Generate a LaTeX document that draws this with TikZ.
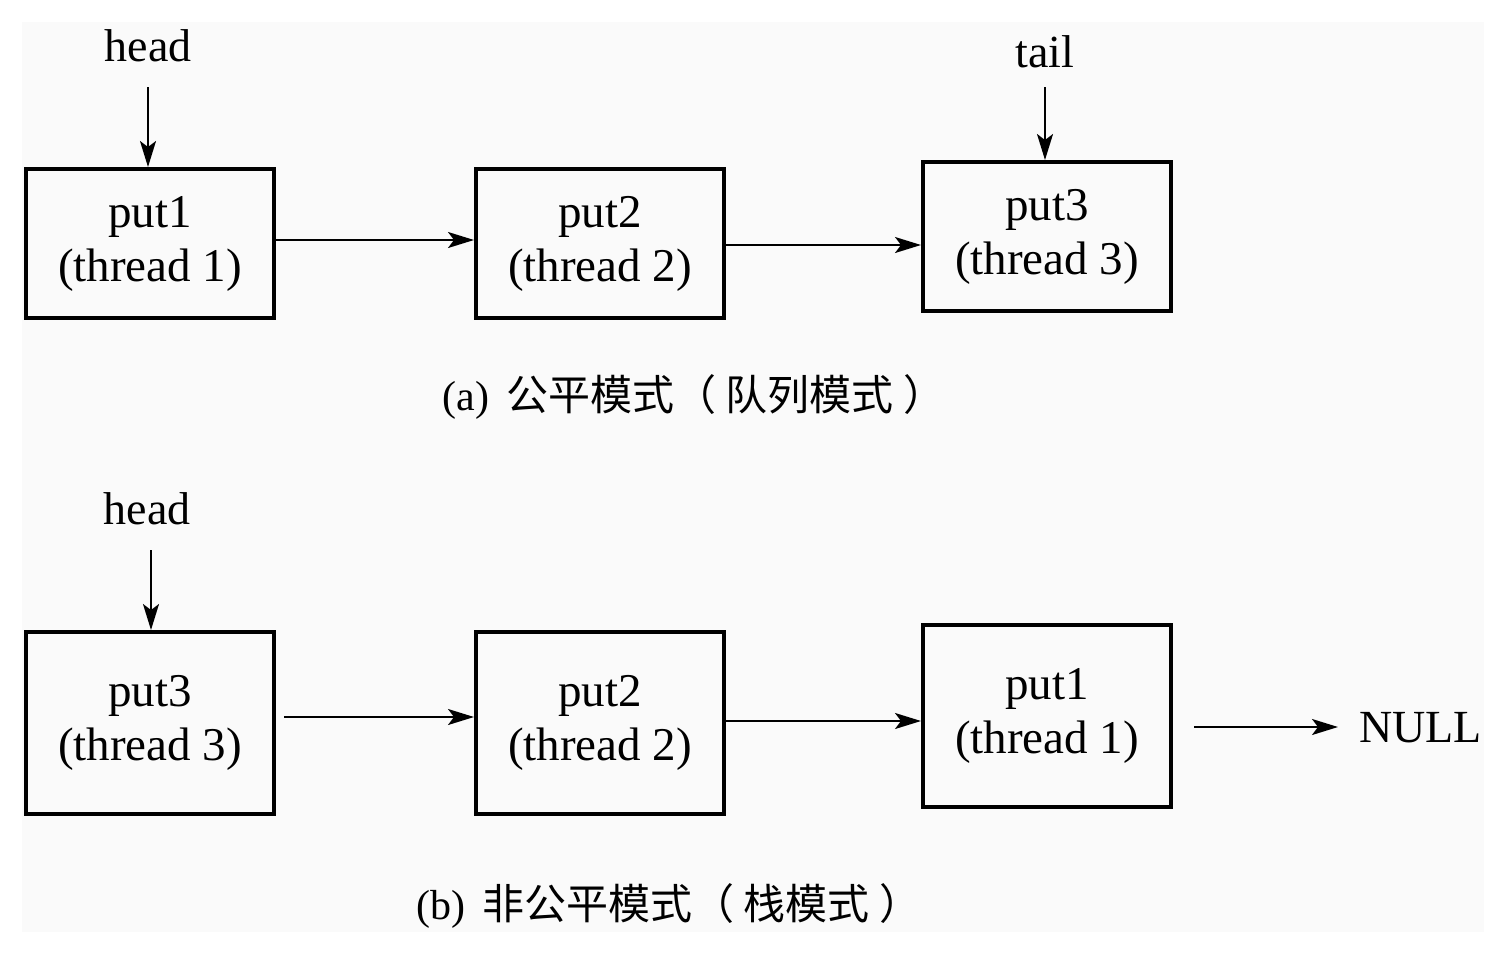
\documentclass[tikz,border=0pt]{standalone}
\usepackage{fontspec}
\setmainfont{Liberation Serif}
\newfontfamily\cjk{Noto Sans CJK SC}
\usetikzlibrary{arrows.meta}
\tikzset{
  x=1pt,y=-1pt,
  nodebox/.style={draw, line width=4pt, minimum width=248pt, minimum height=149pt, align=center, inner sep=0pt,
    font=\fontsize{47}{54}\selectfont},
  lbl/.style={font=\fontsize{46}{54}\selectfont, inner sep=0pt},
  captext/.style={font=\fontsize{42}{48}\selectfont, inner sep=0pt},
  link/.style={line width=2pt, -{Stealth[length=26pt, width=16pt, inset=6pt]}},
}
\begin{document}
\begin{tikzpicture}
\useasboundingbox (0,0) rectangle (1502,956);
\fill[white] (0,0) rectangle (1502,956);
\fill[black!2] (22,22) rectangle (1484,932);
% (a)
\node[nodebox] (a1) at (150,243.5) {put1\\(thread 1)};
\node[nodebox] (a2) at (600,243.5) {put2\\(thread 2)};
\node[nodebox] (a3) at (1047,236.5) {put3\\(thread 3)};
\node[lbl] (ahead) at (148,46) {head};
\node[lbl] (atail) at (1045,52) {tail};
\coordinate (aheadS) at (148,87);
\coordinate (atailS) at (1045,87);
\draw[link] (aheadS) -- (a1.north -| aheadS);
\draw[link] (atailS) -- (a3.north -| atailS);
\draw[link] (a1.east |- 0,240) -- (a2.west |- 0,240);
\draw[link] (a2.east |- 0,245) -- (a3.west |- 0,245);
\node[captext] (capa) at (694,397) {(a)\hspace{0.4em}{\cjk 公平模式（ 队列模式 ）}};
% (b)
\node[nodebox, minimum height=182pt] (b1) at (150,723) {put3\\(thread 3)};
\node[nodebox, minimum height=182pt] (b2) at (600,723) {put2\\(thread 2)};
\node[nodebox, minimum height=182pt] (b3) at (1047,715.5) {put1\\(thread 1)};
\node[lbl] (bhead) at (147,509) {head};
\coordinate (bheadS) at (151,550);
\draw[link] (bheadS) -- (b1.north -| bheadS);
\coordinate (b1out) at (284,717);
\draw[link] (b1out) -- (b2.west |- b1out);
\draw[link] (b2.east |- 0,721) -- (b3.west |- 0,721);
\node[lbl, anchor=west] (null) at (1359,728) {NULL};
\coordinate (b3out) at (1194,727);
\coordinate (b3end) at (1338,727);
\draw[link] (b3out) -- (b3end);
\node[captext] (capb) at (669,906) {(b)\hspace{0.4em}{\cjk 非公平模式（ 栈模式 ）}};
\end{tikzpicture}
\end{document}
